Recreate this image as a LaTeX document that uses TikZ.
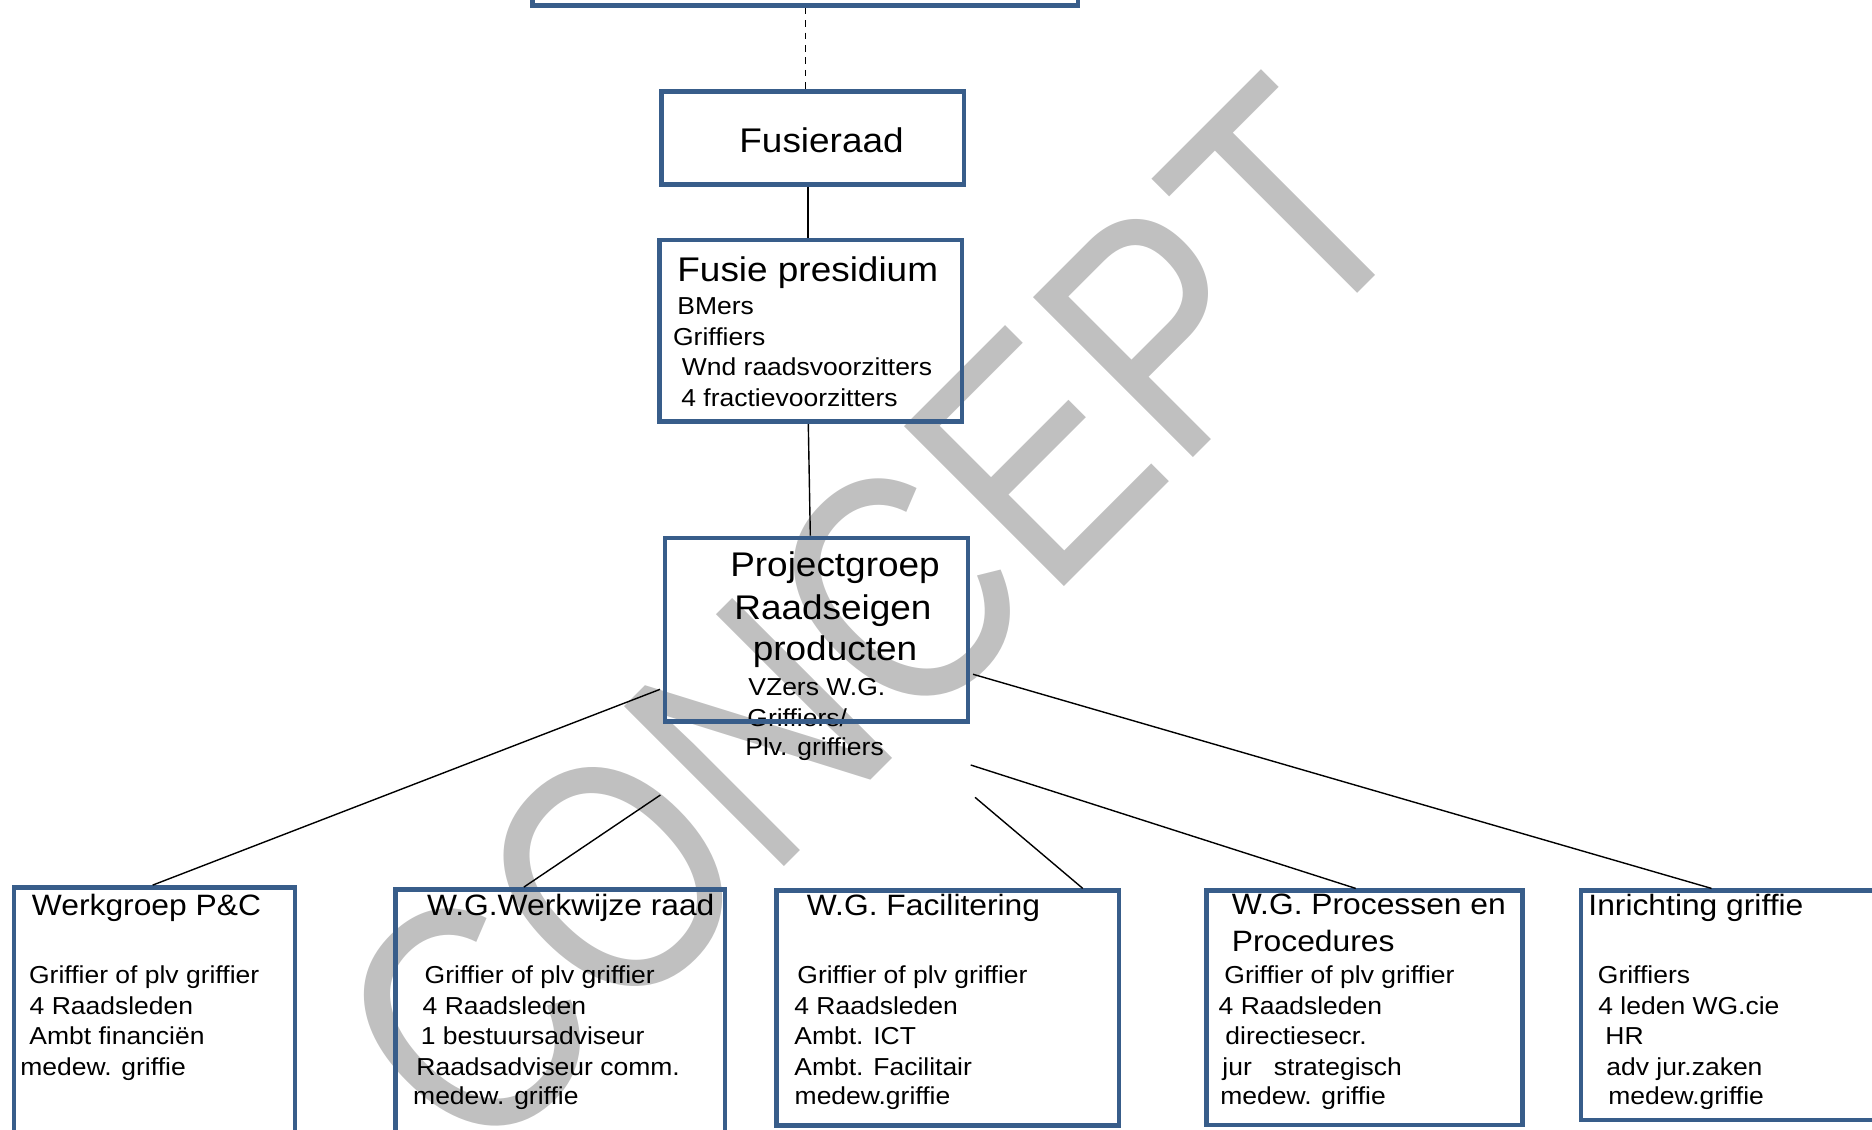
\documentclass[tikz,border=0pt]{standalone}
\usepackage{fontspec}
\setmainfont[FakeStretch=1.08]{Liberation Sans}
\newfontfamily\wmfont{Liberation Sans}
\usetikzlibrary{fit}
\definecolor{boxblue}{HTML}{385D8A}
\definecolor{wmgray}{HTML}{C0C0C0}
\begin{document}
\begin{tikzpicture}[x=0.5pt,y=-0.5pt,
  box/.style={draw=boxblue, line width=2.4pt, inner sep=0pt, rectangle},
  conn/.style={draw=black, line width=0.7pt},
  dashconn/.style={draw=black, line width=0.7pt, dash pattern=on 3.3pt off 2.9pt},
  tl/.style={anchor=base west, inner sep=0pt, font=\fontsize{12.26}{14.5}\selectfont},
  hd/.style={anchor=base west, inner sep=0pt, font=\fontsize{14.72}{17.5}\selectfont},
  bigl/.style={anchor=base west, inner sep=0pt, font=\fontsize{17.1}{20.5}\selectfont},
  bigc/.style={anchor=base, inner sep=0pt, font=\fontsize{17.1}{20.5}\selectfont},
  wm/.style={anchor=base, rotate=45, inner sep=0pt, text=wmgray, font=\wmfont\fontsize{137}{137}\selectfont},
]
\useasboundingbox (0,0) rectangle (1872,1129);
\clip (0,0) rectangle (1872,1129);

% watermark
\node[wm] (watermark) at (952,699) {\scalebox{1}[1.2]{CONCEPT}};

% Fusieraad
\node[bigl] (tFusieraad) at (739,152.7) {Fusieraad};

% Fusie presidium
\node[bigl] (tPres) at (677,281.7) {Fusie presidium};
\node[tl] (p1) at (677,314.3) {BMers};
\node[tl] (p2) at (672.7,345) {Griffiers};
\node[tl] (p3) at (681.5,375.5) {Wnd raadsvoorzitters};
\node[tl] (p4) at (681,406) {4 fractievoorzitters};

% Projectgroep
\node[bigc] (tProj1) at (835,576) {Projectgroep};
\node[bigc] (tProj2) at (833,619.3) {Raadseigen};
\node[bigc] (tProj3) at (835,660) {producten};
\node[tl] (g1) at (748,695.7) {VZers W.G.};
\node[tl] (g2) at (747,726) {Griffiers/};
\node[tl] (g3) at (745,755.7) {Plv. griffiers};

% Box 1
\node[hd] (h1) at (31.5,915) {Werkgroep P\&C};
\node[tl] (a1) at (28.7,983.3) {Griffier of plv griffier};
\node[tl] (a2) at (29.3,1014) {4 Raadsleden};
\node[tl] (a3) at (29,1044.3) {Ambt financiën};
\node[tl] (a4) at (20,1075) {medew. griffie};

% Box 2
\node[hd] (h2) at (426.6,915) {W.G.Werkwijze raad};
\node[tl] (b1) at (424.3,983.3) {Griffier of plv griffier};
\node[tl] (b2) at (422.3,1014) {4 Raadsleden};
\node[tl] (b3) at (420.4,1044.3) {1 bestuursadviseur};
\node[tl] (b4) at (416,1075) {Raadsadviseur comm.};
\node[tl] (b5) at (412.8,1104.5) {medew. griffie};

% Box 3
\node[hd] (h3) at (806.5,915) {W.G. Facilitering};
\node[tl] (c1) at (797,983.3) {Griffier of plv griffier};
\node[tl] (c2) at (794,1014) {4 Raadsleden};
\node[tl] (c3) at (794,1044.3) {Ambt. ICT};
\node[tl] (c4) at (794,1075) {Ambt. Facilitair};
\node[tl] (c5) at (794.3,1104.5) {medew.griffie};

% Box 4
\node[hd] (h4a) at (1231.5,914.5) {W.G. Processen en};
\node[hd] (h4b) at (1231.5,951) {Procedures};
\node[tl] (d1) at (1224,983.3) {Griffier of plv griffier};
\node[tl] (d2) at (1218.3,1014) {4 Raadsleden};
\node[tl] (d3) at (1225,1044.3) {directiesecr.};
\node[tl] (d4) at (1222,1075) {jur\hspace{11pt}strategisch};
\node[tl] (d5) at (1220,1104.5) {medew. griffie};

% Box 5
\node[hd] (h5) at (1588,915) {Inrichting griffie};
\node[tl] (e1) at (1597.5,983.3) {Griffiers};
\node[tl] (e2) at (1598,1014) {4 leden WG.cie};
\node[tl] (e3) at (1605,1044.3) {HR};
\node[tl] (e4) at (1606,1075) {adv jur.zaken};
\node[tl] (e5) at (1608,1104.5) {medew.griffie};

% boxes
\node[box, fit={(532.5,-40) (1078,5.5)}] (topbox) {};
\node[box, fit={(661.6,91.7) (964,184.3)}] (fusieraad) {};
\node[box, fit={(659.8,240) (962,421.7)}] (presidium) {};
\node[box, fit={(665,538) (968,721.5)}] (proj) {};
\node[box, fit={(14,887.5) (295,1150)}] (box1) {};
\node[box, fit={(395.5,889.5) (725,1150)}] (box2) {};
\node[box, fit={(776.5,890.8) (1119,1125.7)}] (box3) {};
\node[box, fit={(1206.5,890.8) (1522.5,1125)}] (box4) {};
\node[box, fit={(1581,890.8) (1920,1120)}] (box5) {};

% free ends
\coordinate (l2s) at (660.4,795);
\coordinate (l3s) at (975,797.3);
\coordinate (l4s) at (970.7,765);

% connectors
\draw[dashconn] (topbox.south) -- (topbox.south |- fusieraad.north);
\draw[conn] ([xshift=-2.4pt]fusieraad.south) -- ([xshift=-1.45pt]presidium.north);
\draw[conn] ([xshift=-1.3pt]presidium.south) -- ([xshift=-3.1pt]proj.north);
\draw[conn] ([xshift=-1.3pt,yshift=-29.8pt]proj.west) -- ([xshift=-0.9pt]box1.north);
\draw[conn] (l2s) -- ([xshift=-18.2pt]box2.north);
\draw[conn] (l3s) -- ([xshift=67.5pt]box3.north);
\draw[conn] (l4s) -- ([xshift=-4.4pt]box4.north);
\draw[conn] ([xshift=1.3pt,yshift=-22.25pt]proj.east) -- ([xshift=66.45pt]box5.north west);
\end{tikzpicture}
\end{document}
